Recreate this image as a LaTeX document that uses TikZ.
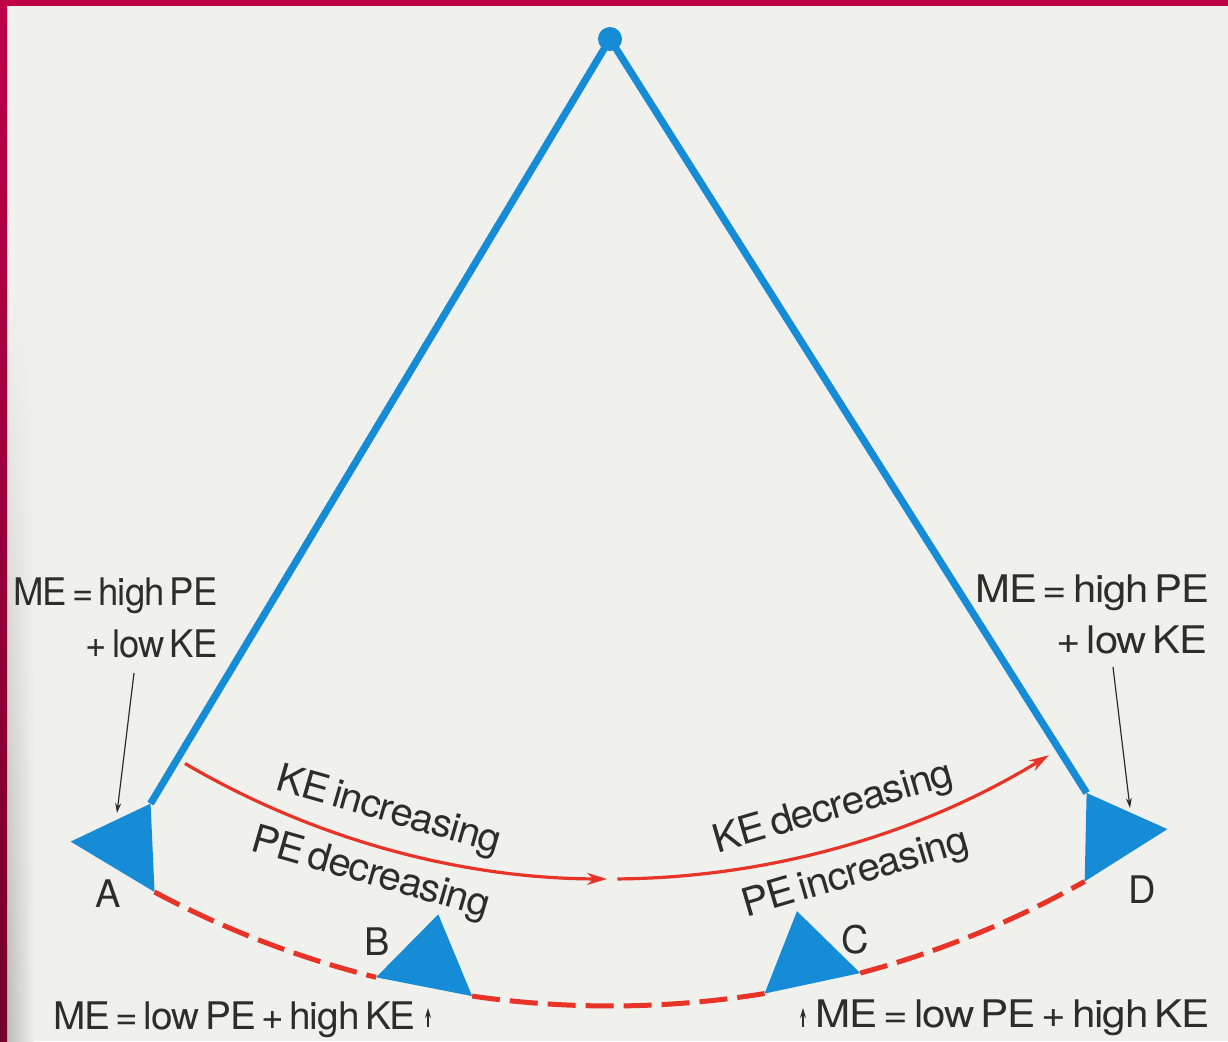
\documentclass[tikz,border=0pt]{standalone}
\usepackage{fontspec}
\setmainfont{TeX Gyre Heros}
\newfontfamily\labfont[LetterSpace=-2.5, WordSpace=0.55]{TeX Gyre Heros}
\usetikzlibrary{arrows.meta,fadings}
\definecolor{bob}{RGB}{22,140,214}
\definecolor{arcred}{RGB}{232,52,40}
\definecolor{paper}{RGB}{240,240,236}
\definecolor{frame}{RGB}{190,0,72}
\definecolor{framedark}{RGB}{115,0,45}
\definecolor{ink}{RGB}{45,45,45}
\newcommand\pendbob[2]{%
  \path (P) ++(#2:892) coordinate (#1a);
  \path (P) ++(#2+2.9:967) coordinate (#1l);
  \path (P) ++(#2-2.9:967) coordinate (#1r);
  \fill[bob] (#1a) -- (#1l) -- (#1r) -- cycle;}
\begin{document}
\begin{tikzpicture}[x=0.5pt,y=-0.5pt,
  stringline/.style={draw=bob, line width=3.6pt},
  swingarrow/.style={draw=arcred, line width=1.6pt, -{Stealth[length=10pt,width=6pt]}},
  pathdash/.style={draw=arcred, line width=2.5pt, dash pattern=on 14pt off 5pt},
  pointer/.style={draw=ink, line width=0.6pt, -{Stealth[length=5pt,width=3pt]}},
  lbl/.style={inner sep=0pt, text=ink, font=\labfont\fontsize{19}{21}\selectfont},
  arclbl/.style={inner sep=0pt, text=ink, font=\labfont\fontsize{19.5}{21}\selectfont},
  letter/.style={inner sep=0pt, text=ink, font=\labfont\fontsize{19}{21}\selectfont},
]
\useasboundingbox (0,0) rectangle (1228,1041);
\fill[paper] (0,0) rectangle (1228,1041);
\shade[left color=black!22!paper, right color=paper, path fading=north] (7,300) rectangle (34,1041);
% frame
\fill[frame] (0,0) rectangle (1228,6);
\shade[top color=frame, bottom color=framedark] (0,0) rectangle (7,1041);

\coordinate (P) at (610,39);
% bobs
\pendbob{A}{121}
\pendbob{B}{101.1}
\pendbob{C}{77.9}
\pendbob{D}{57.7}
% strings
\draw[stringline] (P) -- (Aa);
\draw[stringline] (P) -- (Da);
\fill[bob] (P) circle[radius=12];

% dashed path of the bob
\draw[pathdash] (Ar) arc[start angle=118.1, end angle=104.0, radius=967];
\draw[pathdash] (Br) arc[start angle=98.2, end angle=80.8, radius=967];
\draw[pathdash] (Cr) arc[start angle=75.0, end angle=60.6, radius=967];

% swing arrows
\path (P) ++(120.4:840) coordinate (s1);
\path (P) ++(89.5:840) coordinate (s2);
\draw[swingarrow] (s1) arc[start angle=120.4, end angle=90.2, radius=840];
\draw[swingarrow] (s2) arc[start angle=89.5, end angle=58.5, radius=840];

% arc labels
\path (P) ++(106:804) node[arclbl, rotate=-16, xscale=1.03] (kei) {KE increasing};
\path (P) ++(106:869) node[arclbl, rotate=-16, xscale=1.03] (ped) {PE decreasing};
\path (P) ++(73.8:802) node[arclbl, rotate=16.2, xscale=1.04] (ked) {KE decreasing};
\path (P) ++(73.6:871) node[arclbl, rotate=16.4, xscale=1.04] (pei) {PE increasing};

% letters
\node[letter] (la) at (108,894) {A};
\node[letter] (lb) at (377,942) {B};
\node[letter] (lc) at (855,940) {C};
\node[letter] (ld) at (1142,890) {D};

% energy labels
\node[lbl, anchor=base east, xscale=0.96] (tl1) at (218,605) {ME = high PE};
\node[lbl, anchor=base east, xscale=0.96] (tl2) at (218,657) {+ low KE};
\node[lbl, anchor=base east, xscale=1.1] (tr1) at (1210,602) {ME = high PE};
\node[lbl, anchor=base east, xscale=1.1] (tr2) at (1208,653) {+ low KE};
\node[lbl, anchor=base west, xscale=1.02] (bl) at (53,1029) {ME = low PE + high KE};
\node[lbl, anchor=base west, xscale=1.11] (br) at (815,1027) {ME = low PE + high KE};

% pointers
\coordinate (pA) at (117,813);
\coordinate (pD) at (1130,808);
\coordinate (pB) at (428,1008);
\coordinate (pC) at (803,1008);
\draw[pointer] (134,673) -- (pA);
\draw[pointer] (1113,667) -- (pD);
\draw[pointer] (428,1027) -- (pB);
\draw[pointer] (803,1027) -- (pC);
\end{tikzpicture}
\end{document}
